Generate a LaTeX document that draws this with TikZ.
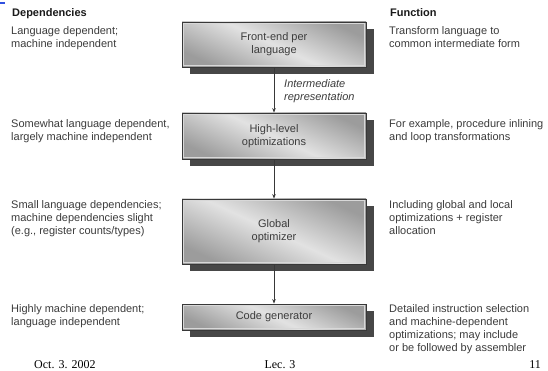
\documentclass[tikz,border=0pt]{standalone}
\usepackage{fontspec}
\setmainfont{Liberation Sans}
\newfontfamily\footfont{Liberation Serif}
\usetikzlibrary{arrows.meta,shadows}
\definecolor{txt}{HTML}{3C3C3C}
\definecolor{hdrc}{HTML}{1A1A1A}
\definecolor{bord}{HTML}{383838}
\definecolor{shad}{HTML}{474747}
\definecolor{edgeg}{HTML}{9C9C9C}
\definecolor{midg}{HTML}{E2E2E2}
\definecolor{bevel}{HTML}{D8D8D8}
\definecolor{markblue}{HTML}{3050E0}
\begin{document}
\begin{tikzpicture}[x=1pt,y=-1pt,
  side/.style={anchor=north west, inner sep=0pt, align=left, text=txt, font=\fontsize{11}{13}\selectfont},
  hdr/.style={anchor=base west, inner sep=0pt, text=hdrc, font=\fontsize{11}{13}\selectfont\bfseries},
  stage/.style={draw=bord, line width=0.8pt, left color=edgeg, right color=edgeg, middle color=midg, shading angle=-25,
    minimum width=184pt, align=center, text=txt, font=\fontsize{11}{13}\selectfont, inner sep=0pt,
    drop shadow={shadow xshift=8pt, shadow yshift=-7pt, fill=shad, opacity=1},
    path picture={\draw[bevel, line width=0.6pt]
      ([shift={(1.3pt,-1.3pt)}]path picture bounding box.north west) rectangle
      ([shift={(-1.3pt,1.3pt)}]path picture bounding box.south east);}},
  flow/.style={draw=bord, line width=0.8pt, -{Stealth[length=4.5pt,width=3.5pt]}},
  foot/.style={anchor=base, inner sep=0pt, font=\footfont\fontsize{12}{14}\selectfont}
]
\useasboundingbox[fill=white] (0,0) rectangle (548,371);
\fill[markblue] (0,2.5) rectangle (4.5,4);

% headers
\node[hdr] (hdep) at (12,17) {Dependencies};
\node[hdr] (hfun) at (390,17) {Function};

% stages
\node[stage, minimum height=45pt] (b1) at (274,44.5) {Front-end per\\language};
\node[stage, minimum height=46pt] (b2) at (274,136) {High-level\\optimizations};
\node[stage, minimum height=65pt] (b3) at (274,231.5) {Global\\optimizer};
\node[stage, minimum height=26pt] (b4) at (274,317) {Code generator};

% connectors
\draw[flow] (b1.south) -- (b2.north);
\draw[flow] (b2.south) -- (b3.north);
\draw[flow] (b3.south) -- (b4.north);
\node[side, font=\fontsize{11}{13}\selectfont\itshape] (ir) at (284,79) {Intermediate\\representation};

% dependencies
\node[side] (l1) at (11,26) {Language dependent;\\machine independent};
\node[side] (l2) at (11,119) {Somewhat language dependent,\\largely machine independent};
\node[side] (l3) at (11,200) {Small language dependencies;\\machine dependencies slight\\(e.g., register counts/types)};
\node[side] (l4) at (11,304) {Highly machine dependent;\\language independent};

% functions
\node[side] (r1) at (389,26) {Transform language to\\common intermediate form};
\node[side] (r2) at (389,119) {For example, procedure inlining\\and loop transformations};
\node[side] (r3) at (389,200) {Including global and local\\optimizations + register\\allocation};
\node[side] (r4) at (389,304) {Detailed instruction selection\\and machine-dependent\\optimizations; may include\\or be followed by assembler};

% footer
\node[foot, anchor=base west] (fdate) at (34,368) {Oct. 3. 2002};
\node[foot] (flec) at (280,368) {Lec. 3};
\node[foot, anchor=base east] (fnum) at (541,368) {11};
\end{tikzpicture}
\end{document}
